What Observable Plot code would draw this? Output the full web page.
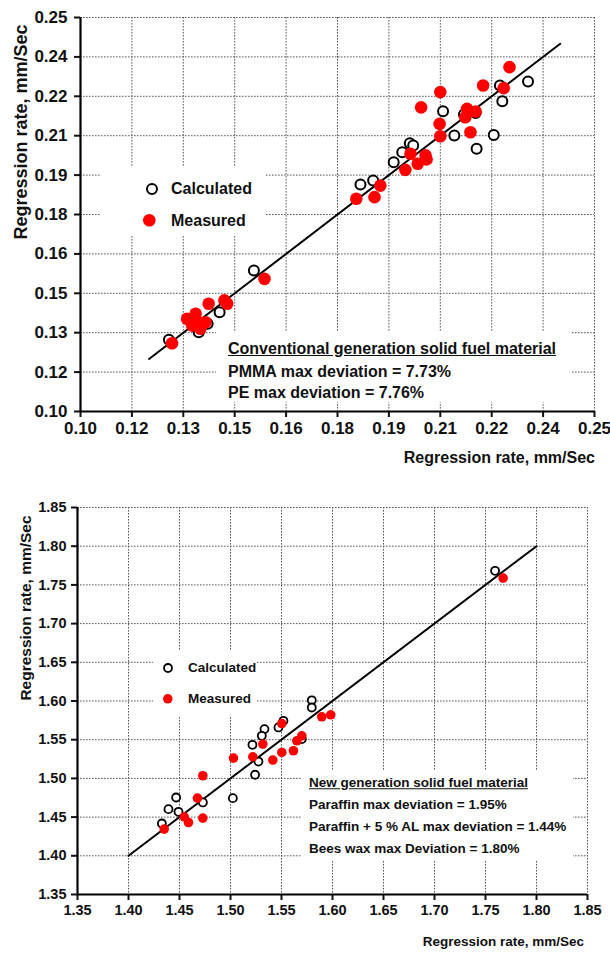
<!DOCTYPE html>
<html><head><meta charset="utf-8">
<script src="https://cdn.jsdelivr.net/npm/d3@7"></script>
<script src="https://cdn.jsdelivr.net/npm/@observablehq/plot@0.6"></script>
<style>
body{margin:0;background:#fff;}
#wrap{position:relative;width:610px;height:956px;overflow:hidden;background:#fff;}
.panel{position:absolute;left:0;}
.ov{position:absolute;font-family:"Liberation Sans",Arial,sans-serif;font-weight:bold;color:#111;white-space:nowrap;line-height:1;}
.box{position:absolute;background:#fff;}
.vc{transform:translateY(-50%);}
.rot{transform:translate(-50%,-50%) rotate(-90deg);}
</style></head><body><div id="wrap"></div><script>
// ---------- data: conventional generation (top panel) ----------
const topCalcX = [0.2306,0.2224,0.2231,0.2058,0.2119,0.2153,0.2091,0.2206,0.2156,0.1961,0.1971,0.1939,0.1914,0.1854,0.1817,0.1506,0.1406,0.1371,0.1345,0.1258];
const topCalcY = [0.2256,0.2241,0.2181,0.2143,0.2131,0.2136,0.2051,0.2053,0.2000,0.2021,0.2013,0.1987,0.1949,0.1879,0.1864,0.1537,0.1378,0.1334,0.1302,0.1273];
const topMeasX = [0.2252,0.2175,0.2235,0.2050,0.1994,0.2128,0.2153,0.2123,0.2048,0.2050,0.2138,0.1963,0.2007,0.1984,0.2010,0.1948,0.1875,0.1858,0.1805,0.1537,0.1420,0.1374,0.1428,0.1311,0.1336,0.1345,0.1326,0.1350,0.1365,0.1267];
const topMeasY = [0.2311,0.2241,0.2231,0.2216,0.2158,0.2152,0.2142,0.2120,0.2095,0.2048,0.2063,0.1981,0.1975,0.1943,0.1960,0.1920,0.1860,0.1816,0.1810,0.1505,0.1423,0.1410,0.1410,0.1353,0.1372,0.1340,0.1327,0.1315,0.1340,0.1260];
const topLineX = [0.12, 0.24];
const topLineY = [0.12, 0.24];
const topTicks = [0.10,0.115,0.13,0.145,0.16,0.175,0.19,0.205,0.22,0.235,0.25];
const topTickLabels = ["0.10","0.12","0.13","0.15","0.16","0.18","0.19","0.21","0.22","0.24","0.25"];

// ---------- data: new generation (bottom panel) ----------
const botCalcX = [1.7594,1.5797,1.5797,1.5519,1.5470,1.5333,1.5307,1.5215,1.5699,1.5274,1.5241,1.5023,1.4729,1.4467,1.4392,1.4490,1.4327];
const botCalcY = [1.7682,1.6009,1.5916,1.5744,1.5658,1.5637,1.5550,1.5434,1.5508,1.5218,1.5047,1.4745,1.4689,1.4753,1.4603,1.4568,1.4417];
const botMeasX = [1.7673,1.5503,1.5895,1.5983,1.5699,1.5650,1.5617,1.5317,1.5503,1.5415,1.5219,1.5029,1.4729,1.4676,1.4729,1.4546,1.4588,1.4350];
const botMeasY = [1.7588,1.5709,1.5796,1.5822,1.5550,1.5486,1.5357,1.5443,1.5335,1.5237,1.5279,1.5262,1.5034,1.4745,1.4487,1.4504,1.4430,1.4345];
const botLineX = [1.40, 1.80];
const botLineY = [1.40, 1.80];
const botTicks = [1.35,1.40,1.45,1.50,1.55,1.60,1.65,1.70,1.75,1.80,1.85];
const botTickLabels = ["1.35","1.40","1.45","1.50","1.55","1.60","1.65","1.70","1.75","1.80","1.85"];

const seriesNames = ["Calculated","Measured"];
const topNote = ["Conventional generation solid fuel material","PMMA max deviation = 7.73%","PE max deviation = 7.76%"];
const botNote = ["New generation solid fuel material","Paraffin max deviation = 1.95%","Paraffin + 5 % AL max deviation = 1.44%","Bees wax max Deviation = 1.80%"];
const axisTitle = "Regression rate, mm/Sec";

const wrap = document.getElementById("wrap");
const pts = (xs, ys) => xs.map((x, i) => ({x, y: ys[i]}));
const labelFor = (ticks, labels) => d => labels[ticks.findIndex(t => Math.abs(t - d) < 1e-9)];

function panel(o) {
  const calc = pts(o.cx, o.cy), meas = pts(o.mx, o.my), line = pts(o.lx, o.ly);
  const dom = [o.ticks[0], o.ticks[o.ticks.length - 1]];
  const fmt = labelFor(o.ticks, o.labels);
  const grid = {stroke: "#5a5a5a", strokeOpacity: 1, strokeDasharray: "1.6,1.4", strokeWidth: 1};
  const p = Plot.plot({
    width: 610, height: o.height,
    marginLeft: o.ml, marginRight: o.mr, marginTop: o.mt, marginBottom: o.mb,
    x: {domain: dom}, y: {domain: dom},
    style: {fontFamily: '"Liberation Sans Narrow","Arial Narrow","Liberation Sans",sans-serif', fontSize: o.tickFont + "px", fontWeight: "bold", color: "#111", background: "transparent", overflow: "visible"},
    marks: [
      Plot.gridX(o.ticks, grid),
      Plot.gridY(o.ticks, grid),
      Plot.axisX(o.ticks, {tickFormat: fmt, tickSize: 6, tickPadding: o.padX, label: null, strokeWidth: 2}),
      Plot.axisY(o.ticks, {tickFormat: fmt, tickSize: 6, tickPadding: o.padY, label: null, strokeWidth: 2}),
      Plot.ruleX([dom[0]], {stroke: "#000", strokeWidth: 2.2}),
      Plot.ruleY([dom[0]], {stroke: "#000", strokeWidth: 2.2}),
      Plot.line(line, {x: "x", y: "y", stroke: "#000", strokeWidth: 2}),
      Plot.dot(calc, {x: "x", y: "y", r: o.rc, stroke: "#000", strokeWidth: o.sw, fill: "#fff"}),
      Plot.dot(meas, {x: "x", y: "y", r: o.rm, fill: "#f00", stroke: "none"})
    ]
  });
  p.classList.add("panel");
  p.style.top = o.top + "px";
  wrap.appendChild(p);
}

panel({top: 0, height: 470, ml: 80, mr: 16, mt: 17, mb: 59, ticks: topTicks, labels: topTickLabels,
  cx: topCalcX, cy: topCalcY, mx: topMeasX, my: topMeasY, lx: topLineX, ly: topLineY,
  tickFont: 17, padX: 4, padY: 7, rc: 5, rm: 6.3, sw: 2});
panel({top: 470, height: 486, ml: 77, mr: 23, mt: 37, mb: 62, ticks: botTicks, labels: botTickLabels,
  cx: botCalcX, cy: botCalcY, mx: botMeasX, my: botMeasY, lx: botLineX, ly: botLineY,
  tickFont: 14.5, padX: 4, padY: 5, rc: 4, rm: 4.8, sw: 1.8});

function el(cls, css, html) {
  const d = document.createElement("div");
  d.className = cls; d.style.cssText = css; d.innerHTML = html || "";
  wrap.appendChild(d); return d;
}
function circ(r, fill, stroke, sw) {
  const s = 2 * r + 4;
  return `<svg width="${s}" height="${s}" style="display:block"><circle cx="${s/2}" cy="${s/2}" r="${r}" fill="${fill}" stroke="${stroke}" stroke-width="${sw}"/></svg>`;
}

// ----- top panel overlays -----
el("box", "left:100px;top:166px;width:166px;height:70px;");
el("ov", `left:${151.7-7}px;top:${189-7}px;`, circ(5, "#fff", "#000", 2));
el("ov", `left:${149-8.3}px;top:${220.7-8.3}px;`, circ(6.3, "#f00", "none", 0));
el("ov vc", "left:171px;top:189px;font-size:16px;", seriesNames[0]);
el("ov vc", "left:171px;top:221px;font-size:16px;", seriesNames[1]);

el("box", "left:216px;top:332px;width:356px;height:70px;");
el("ov vc", "left:228px;top:349px;font-size:16px;text-decoration:underline;", topNote[0]);
el("ov vc", "left:228px;top:371.5px;font-size:16px;", topNote[1]);
el("ov vc", "left:228px;top:393px;font-size:16px;", topNote[2]);

el("ov vc", "right:15px;top:458px;font-size:16px;", axisTitle);
el("ov rot", "left:21px;top:132px;font-size:18px;", axisTitle);

// ----- bottom panel overlays -----
el("box", "left:153px;top:650px;width:104px;height:67px;");
el("ov", `left:${168-6}px;top:${668-6}px;`, circ(4, "#fff", "#000", 1.8));
el("ov", `left:${168-6.8}px;top:${699-6.8}px;`, circ(4.8, "#f00", "none", 0));
el("ov vc", "left:188px;top:668px;font-size:13.5px;", seriesNames[0]);
el("ov vc", "left:188px;top:699px;font-size:13.5px;", seriesNames[1]);

el("box", "left:301px;top:770px;width:272px;height:90px;");
el("ov vc", "left:309px;top:783px;font-size:13.5px;text-decoration:underline;", botNote[0]);
el("ov vc", "left:309px;top:805px;font-size:13.5px;", botNote[1]);
el("ov vc", "left:309px;top:827px;font-size:13.5px;", botNote[2]);
el("ov vc", "left:309px;top:848.5px;font-size:13.5px;", botNote[3]);

el("ov vc", "right:26px;top:942px;font-size:13.5px;", axisTitle);
el("ov rot", "left:26px;top:608px;font-size:15.5px;", axisTitle);
</script></body></html>
